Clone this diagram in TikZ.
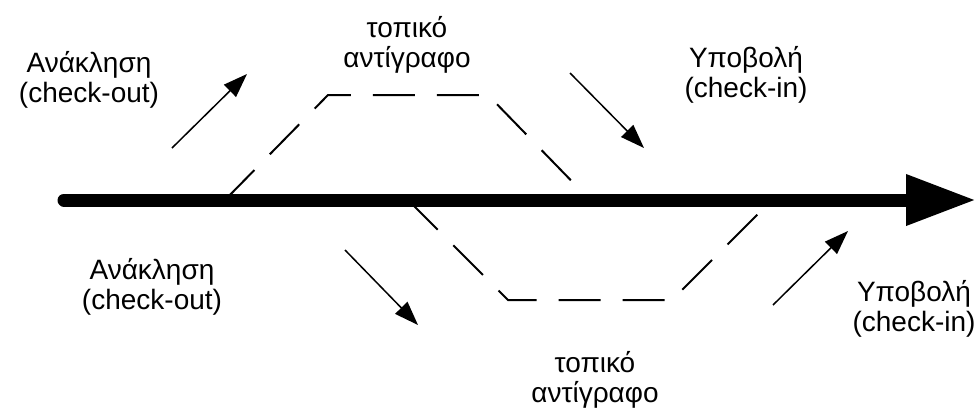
\documentclass[tikz,border=0pt]{standalone}
\usepackage{fontspec}
\setmainfont{Liberation Sans}
\usetikzlibrary{arrows.meta}
\begin{document}
\begin{tikzpicture}[x=1pt,y=-1pt,
  lbl/.style={align=center,inner sep=0pt,font=\fontsize{28}{30}\selectfont},
  mainarrow/.style={line width=13pt,line cap=round,-{Triangle[length=70pt,width=48pt]}},
  dpath/.style={line width=2pt,dash pattern=on 42pt off 22pt},
  smallarrow/.style={line width=1.5pt,-{Triangle[length=24pt,width=17pt]}}]
\useasboundingbox (0,0) rectangle (980,416);
% dashed paths
\coordinate (u0) at (225,200);
\coordinate (u1) at (328,95);
\coordinate (u2) at (488,95);
\coordinate (u3) at (590,200);
\coordinate (l0) at (408,200);
\coordinate (l1) at (508,300);
\coordinate (l2) at (672,300);
\coordinate (l3) at (772,200);
\draw[dpath] (u0) -- (u1) -- (u2) -- (u3);
\draw[dpath] (l0) -- (l1) -- (l2) -- (l3);
% main arrow
\coordinate (ms) at (64,200);
\coordinate (me) at (976,200);
\draw[mainarrow] (ms) -- (me);
% small arrows
\coordinate (a1s) at (172,148); \coordinate (a1e) at (247,74);
\coordinate (a2s) at (570,73);  \coordinate (a2e) at (644,148);
\coordinate (a3s) at (345,250); \coordinate (a3e) at (418,325);
\coordinate (a4s) at (773,305); \coordinate (a4e) at (848,231);
\draw[smallarrow] (a1s) -- (a1e);
\draw[smallarrow] (a2s) -- (a2e);
\draw[smallarrow] (a3s) -- (a3e);
\draw[smallarrow] (a4s) -- (a4e);
% labels
\node[lbl] (t1) at (89,80) {Ανάκληση\\(check-out)};
\node[lbl] (t2) at (407,45) {τοπικό\\αντίγραφο};
\node[lbl] (t3) at (746,75) {Υποβολή\\(check-in)};
\node[lbl] (t4) at (152,287) {Ανάκληση\\(check-out)};
\node[lbl] (t5) at (595,380) {τοπικό\\αντίγραφο};
\node[lbl] (t6) at (914,309) {Υποβολή\\(check-in)};
\end{tikzpicture}
\end{document}
